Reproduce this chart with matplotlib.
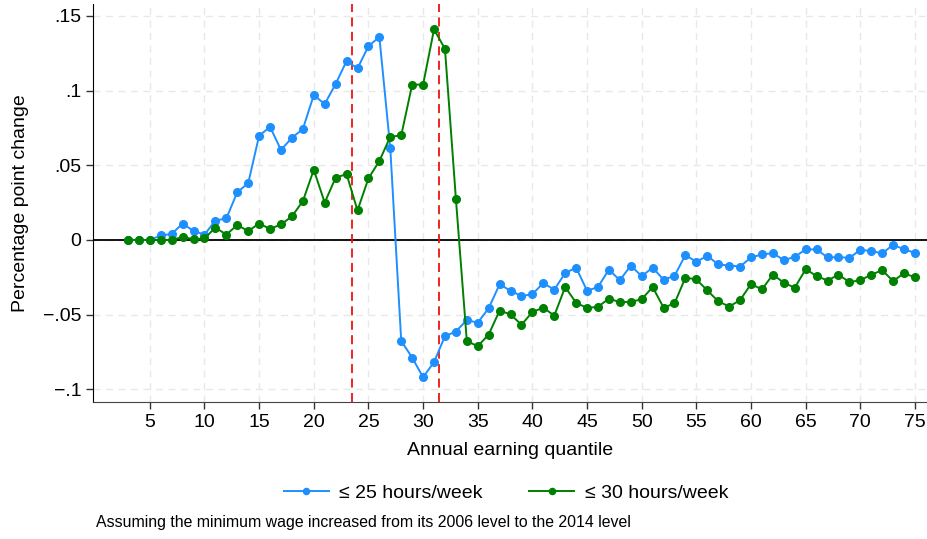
import matplotlib
matplotlib.use("Agg")
import matplotlib.pyplot as plt

plt.rcParams['font.family'] = ['Liberation Sans', 'DejaVu Sans']

# annual earning quantiles 3..75
quantiles = list(range(3, 76))

# <= 25 hours/week
hours25 = [0.0, 0.0, 0.0, 0.003, 0.004, 0.011, 0.006, 0.0036, 0.013, 0.0144,
           0.032, 0.038, 0.0698, 0.0757, 0.0603, 0.0684, 0.0743, 0.097, 0.091, 0.1045,
           0.1198, 0.1149, 0.1297, 0.136, 0.0613, -0.0676, -0.0788, -0.0919, -0.0818, -0.0644,
           -0.0613, -0.0536, -0.0554, -0.0457, -0.0297, -0.034, -0.0376, -0.0363, -0.0288, -0.0333,
           -0.0221, -0.0185, -0.034, -0.0315, -0.0198, -0.027, -0.0171, -0.0243, -0.0185, -0.0266,
           -0.0240, -0.0101, -0.0146, -0.0106, -0.0164, -0.0171, -0.0178, -0.0117, -0.0097, -0.0088,
           -0.0135, -0.0113, -0.0063, -0.0063, -0.0117, -0.0115, -0.012, -0.0066, -0.0074, -0.009,
           -0.0032, -0.0063, -0.0086]

# <= 30 hours/week
hours30 = [0.0, 0.0, 0.0, 0.0, 0.0, 0.002, 0.0005, 0.001, 0.0083, 0.0036,
           0.010, 0.006, 0.011, 0.0074, 0.0104, 0.0158, 0.026, 0.047, 0.025, 0.0417,
           0.0441, 0.0198, 0.0412, 0.0529, 0.0691, 0.070, 0.104, 0.104, 0.141, 0.128,
           0.0277, -0.0676, -0.0712, -0.0633, -0.0473, -0.0498, -0.0568, -0.0482, -0.0453, -0.0507,
           -0.0315, -0.0421, -0.0455, -0.0448, -0.0392, -0.0417, -0.0414, -0.0397, -0.0315, -0.0453,
           -0.0425, -0.0252, -0.0264, -0.0338, -0.041, -0.0446, -0.0403, -0.0295, -0.0331, -0.0232,
           -0.0286, -0.032, -0.0196, -0.0241, -0.0272, -0.0232, -0.0282, -0.027, -0.0232, -0.0203,
           -0.0275, -0.0223, -0.025]

cutoffs = [23.5, 31.5]

xticks = list(range(5, 80, 5))
yticks = [-0.1, -0.05, 0, 0.05, 0.1, 0.15]
ytick_labels = ['\u2212.1', '\u2212.05', '0', '.05', '.1', '.15']

fig = plt.figure(figsize=(9.27, 5.39), dpi=100)
ax = fig.add_axes([0.1003, 0.2547, 0.8997, 0.7379])

for y in yticks:
    ax.axhline(y, color='#e8e8e8', lw=1, ls=(0, (5, 4)), zorder=0)
for x in xticks:
    ax.axvline(x, color='#e8e8e8', lw=1, ls=(0, (5, 4)), zorder=0)

ax.axhline(0, color='black', lw=1.3, zorder=1)
for c in cutoffs:
    ax.axvline(c, color='#ee1111', lw=1.3, ls=(0, (5, 3)), zorder=2)

ax.plot(quantiles, hours25, color='#1e8fff', lw=1.4, marker='o', ms=5.5,
        label='\u2264 25 hours/week', zorder=3)
ax.plot(quantiles, hours30, color='#008000', lw=1.4, marker='o', ms=5.5,
        label='\u2264 30 hours/week', zorder=4)

ax.set_xlim(-0.2, 76.1)
ax.set_ylim(-0.1083, 0.158)
ax.set_xticks(xticks)
ax.set_yticks(yticks)
ax.set_yticklabels(ytick_labels)
ax.tick_params(labelsize=14, length=5, width=1, color='#333333')
for s in ['top', 'right']:
    ax.spines[s].set_visible(False)
ax.spines['left'].set_color('black')
ax.spines['bottom'].set_color('#444444')

ax.set_xlabel('Annual earning quantile', fontsize=14, labelpad=8)
ax.set_ylabel('Percentage point change', fontsize=14, labelpad=10)

fig.legend(loc='center', bbox_to_anchor=(0.546, 0.085), ncol=2, frameon=False,
           fontsize=14, handlelength=2.3, columnspacing=2.4, handletextpad=0.55,
           numpoints=1, markerscale=0.8)

fig.text(0.104, 0.030, 'Assuming the minimum wage increased from its 2006 level to the 2014 level',
         fontsize=11.4, va='center')

fig.savefig('out.png', dpi=100)
